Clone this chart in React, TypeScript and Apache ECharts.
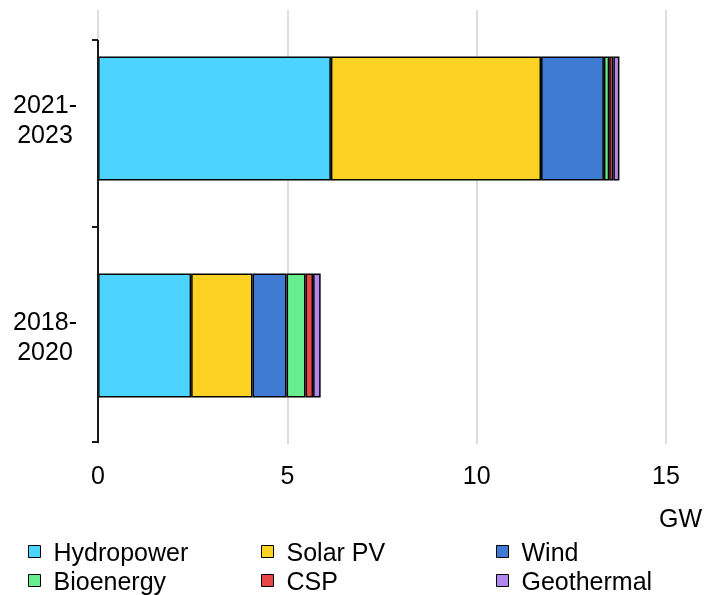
import React, { useEffect, useRef } from "react";
import * as echarts from "echarts";

const categories = ["2018-\n2020", "2021-\n2023"];
const seriesNames = ["Hydropower", "Solar PV", "Wind", "Bioenergy", "CSP", "Geothermal"];
const hydropower = [2.46, 6.15];
const solarPV = [1.62, 5.55];
const wind = [0.9, 1.66];
const bioenergy = [0.5, 0.14];
const csp = [0.2, 0.11];
const geothermal = [0.2, 0.16];
const xTicks = [0, 5, 10, 15];

const colors = ["#4DD3FF", "#FDD323", "#3F7BD3", "#67EF8F", "#E84647", "#B186EE"];
const FONT = "Liberation Sans, Arial, sans-serif";
const FS = 25;

export default function App() {
  const ref = useRef<HTMLDivElement>(null);
  useEffect(() => {
    const chart = echarts.init(ref.current!, undefined, { renderer: "svg" });
    const values = [hydropower, solarPV, wind, bioenergy, csp, geothermal];
    const legendItem = (names: string[], left: number) => ({
      orient: "vertical",
      left,
      top: 539,
      padding: 0,
      itemGap: 4,
      itemWidth: 12,
      itemHeight: 12,
      icon: "rect",
      selectedMode: false,
      data: names,
      itemStyle: { borderColor: "#000", borderWidth: 1 },
      textStyle: { fontSize: FS, fontFamily: FONT, color: "#000", padding: [0, 0, 0, 8] },
    });
    chart.setOption({
      animation: false,
      color: colors,
      grid: { left: 98, right: 38, top: 10, bottom: 151, containLabel: false },
      xAxis: {
        type: "value",
        min: xTicks[0],
        max: xTicks[xTicks.length - 1],
        interval: 5,
        axisLine: { show: false },
        axisTick: { show: false },
        axisLabel: { fontSize: FS, fontFamily: FONT, color: "#000", margin: 18 },
        splitLine: { show: true, lineStyle: { color: "#dcdcdc", width: 2 } },
      },
      yAxis: {
        type: "category",
        data: categories,
        axisLine: { show: false },
        axisTick: { show: false },
        axisLabel: {
          fontSize: FS,
          fontFamily: FONT,
          color: "#000",
          lineHeight: 30,
          align: "center",
          margin: 53,
        },
      },
      legend: [
        legendItem(["Hydropower", "Bioenergy"], 28),
        legendItem(["Solar PV", "CSP"], 261),
        legendItem(["Wind", "Geothermal"], 496),
      ],
      graphic: [
        { type: "line", shape: { x1: 98, y1: 40, x2: 98, y2: 443 }, style: { stroke: "#1a1a1a", lineWidth: 2 }, z: 100 },
        { type: "line", shape: { x1: 92, y1: 40, x2: 98, y2: 40 }, style: { stroke: "#1a1a1a", lineWidth: 2 }, z: 100 },
        { type: "line", shape: { x1: 92, y1: 227, x2: 98, y2: 227 }, style: { stroke: "#1a1a1a", lineWidth: 2 }, z: 100 },
        { type: "line", shape: { x1: 92, y1: 442, x2: 98, y2: 442 }, style: { stroke: "#1a1a1a", lineWidth: 2 }, z: 100 },
        {
          type: "text",
          left: 659,
          top: 505,
          style: { text: "GW", fontSize: FS, fontFamily: FONT, fill: "#000" },
        },
      ],
      series: seriesNames.map((name, i) => ({
        name,
        type: "bar",
        stack: "total",
        barWidth: 124,
        data: values[i],
        itemStyle: { color: colors[i], borderColor: "#000", borderWidth: 1.5 },
      })),
    });
    return () => chart.dispose();
  }, []);
  return (
    <div
      ref={ref}
      style={{ position: "fixed", left: 0, top: 0, width: 704, height: 595 }}
    />
  );
}
